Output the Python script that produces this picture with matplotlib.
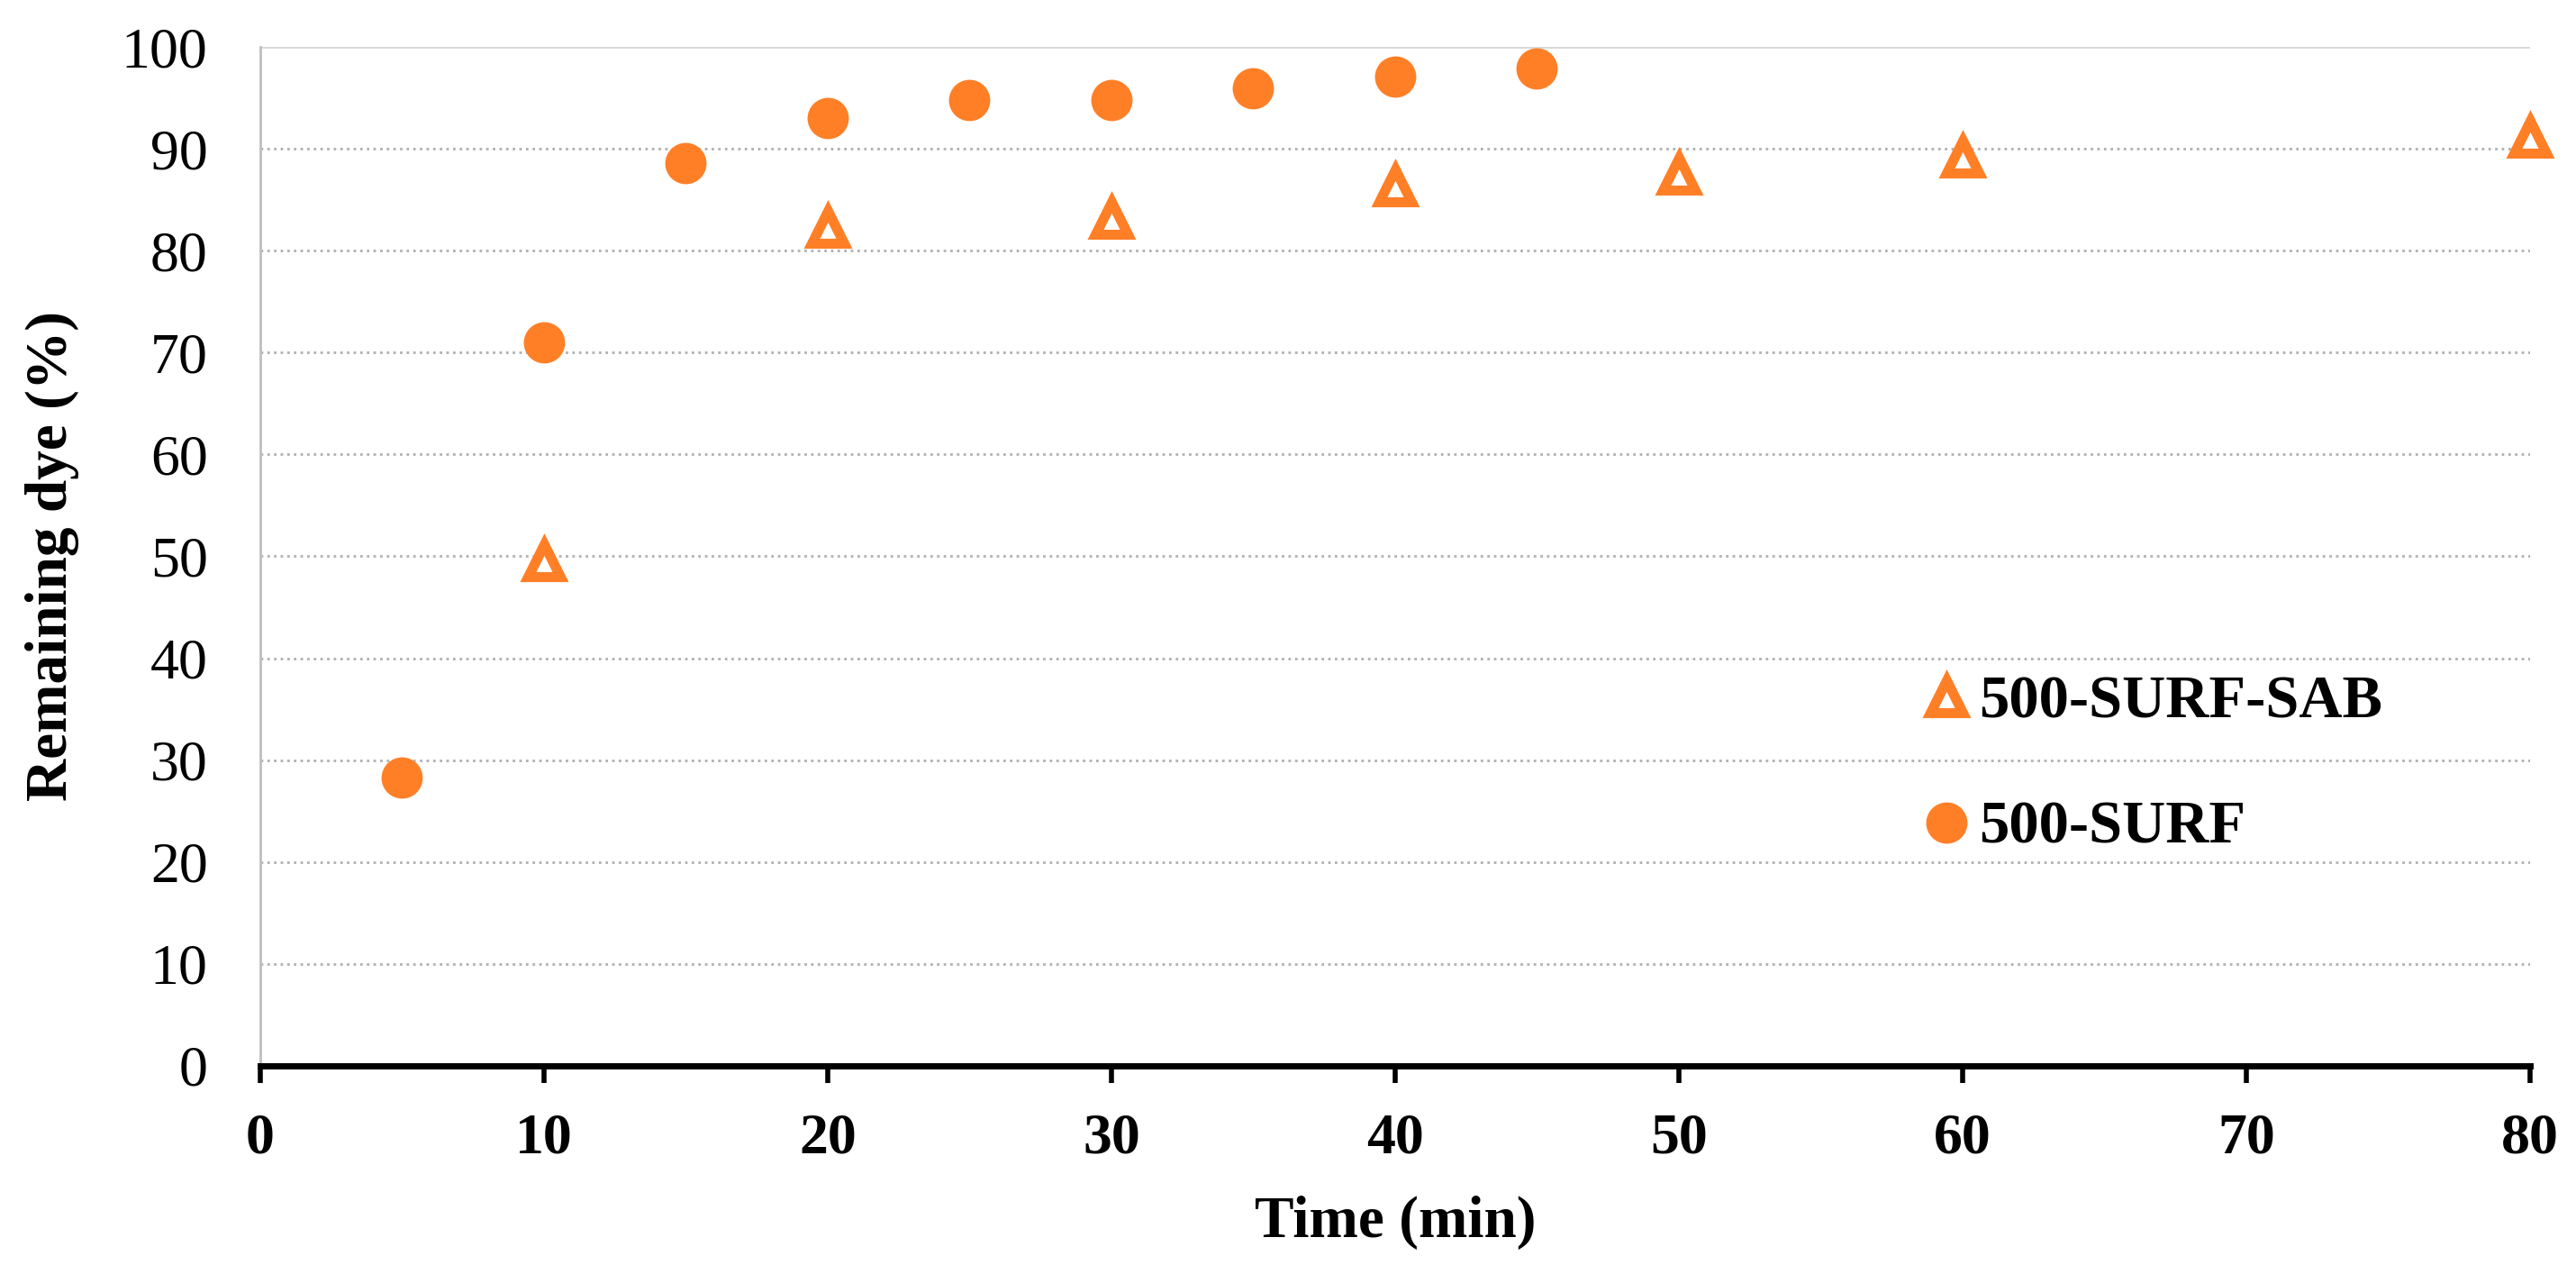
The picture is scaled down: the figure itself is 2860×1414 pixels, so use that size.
import matplotlib
matplotlib.use("Agg")
import matplotlib.pyplot as plt

# data
time_surf = [5, 10, 15, 20, 25, 30, 35, 40, 45]
dye_surf = [28.3, 71.0, 88.6, 93.0, 94.8, 94.8, 95.9, 97.1, 97.9]

time_sab = [10, 20, 30, 40, 50, 60, 80]
dye_sab = [49.6, 82.3, 83.2, 86.4, 87.5, 89.2, 91.2]

x_ticks = [0, 10, 20, 30, 40, 50, 60, 70, 80]
y_ticks = [0, 10, 20, 30, 40, 50, 60, 70, 80, 90, 100]

orange = "#FF7F27"

plt.rcParams["font.family"] = ["Liberation Serif", "DejaVu Serif"]

fig = plt.figure(figsize=(28.6, 14.14), dpi=100)
ax = fig.add_axes([0.1010, 0.1634, 0.8811, 0.7998])

# draw series (legend order: triangles first)
ax.plot(time_sab, dye_sab, linestyle="none", marker="^", markersize=26,
        markerfacecolor="white", markeredgecolor=orange, markeredgewidth=8,
        label="500-SURF-SAB", zorder=3, clip_on=False)
ax.plot(time_surf, dye_surf, linestyle="none", marker="o", markersize=32,
        color=orange, label="500-SURF", zorder=3, clip_on=False)

ax.set_xlim(0, 80)
ax.set_ylim(0, 100)
ax.set_xticks(x_ticks)
ax.set_yticks(y_ticks)

# grid
ax.grid(axis="y", linestyle=":", color="#b0b0b0", linewidth=2)
ax.set_axisbelow(True)

# spines
for side in ["top", "right"]:
    ax.spines[side].set_visible(False)
ax.spines["left"].set_color("#bfbfbf")
ax.spines["left"].set_linewidth(2)
ax.spines["bottom"].set_color("black")
ax.spines["bottom"].set_linewidth(5)
ax.axhline(100, color="#d9d9d9", linewidth=3, zorder=1)

ax.tick_params(axis="y", length=0, pad=42, labelsize=46)
ax.tick_params(axis="x", direction="out", length=14, width=4, pad=24,
               labelsize=46, color="black")
for lbl in ax.get_xticklabels():
    lbl.set_fontweight("bold")

ax.set_xlabel("Time (min)", fontsize=47, fontweight="bold", labelpad=24)
ax.set_ylabel("Remaining dye (%)", fontsize=47, fontweight="bold", labelpad=34)

leg = ax.legend(loc="upper left", bbox_to_anchor=(0.7335, 0.3835), frameon=False,
                prop={"weight": "bold", "size": 48},
                handletextpad=0.2, labelspacing=1.18, handlelength=0.7,
                borderaxespad=0, borderpad=0)

fig.savefig("out.png", dpi=100)
